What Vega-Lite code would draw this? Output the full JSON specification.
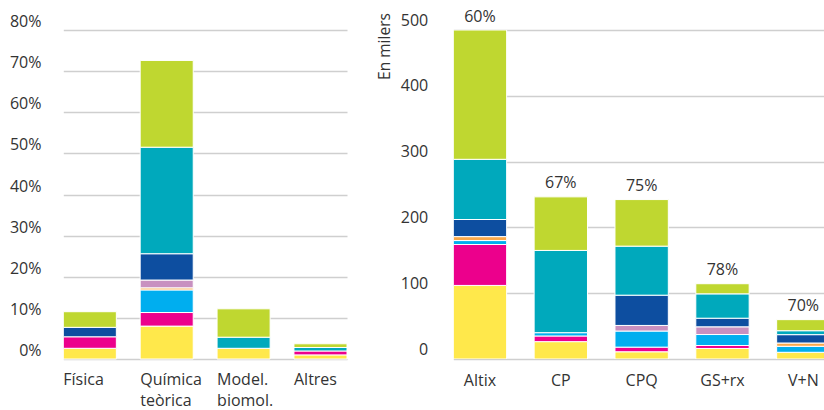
{
  "$schema": "https://vega.github.io/schema/vega-lite/v6.json",
  "padding": {"left": 8, "top": 8, "right": 0, "bottom": 0},
  "background": "white",
  "config": {
    "view": {"stroke": null},
    "font": "Open Sans",
    "axis": {"labelFont": "Open Sans", "labelFontSize": 16, "labelColor": "#333333", "titleFont": "Open Sans", "titleFontSize": 15.5, "titleFontWeight": "normal", "titleColor": "#333333", "gridColor": "#cfcfcf", "gridWidth": 1.3, "domain": false, "ticks": false, "tickSize": 0}
  },
  "datasets": {
    "esquerra": [
      {"area": "Física", "serie": "s1", "valor": 2.6},
      {"area": "Física", "serie": "s2", "valor": 2.8},
      {"area": "Física", "serie": "s6", "valor": 2.3},
      {"area": "Física", "serie": "s8", "valor": 3.8},
      {"area": "Química teòrica", "serie": "s1", "valor": 8.0},
      {"area": "Química teòrica", "serie": "s2", "valor": 3.3},
      {"area": "Química teòrica", "serie": "s3", "valor": 5.5},
      {"area": "Química teòrica", "serie": "s4", "valor": 0.5},
      {"area": "Química teòrica", "serie": "s5", "valor": 1.9},
      {"area": "Química teòrica", "serie": "s6", "valor": 6.4},
      {"area": "Química teòrica", "serie": "s7", "valor": 25.9},
      {"area": "Química teòrica", "serie": "s8", "valor": 21.1},
      {"area": "Model. biomol.", "serie": "s1", "valor": 2.6},
      {"area": "Model. biomol.", "serie": "s7", "valor": 2.7},
      {"area": "Model. biomol.", "serie": "s8", "valor": 6.9},
      {"area": "Altres", "serie": "s1", "valor": 1.0},
      {"area": "Altres", "serie": "s2", "valor": 0.95},
      {"area": "Altres", "serie": "s7", "valor": 0.85},
      {"area": "Altres", "serie": "s8", "valor": 0.9}
    ],
    "dreta": [
      {"sistema": "Altix", "serie": "s1", "valor": 111.8},
      {"sistema": "Altix", "serie": "s2", "valor": 62.2},
      {"sistema": "Altix", "serie": "s3", "valor": 6},
      {"sistema": "Altix", "serie": "s4", "valor": 6},
      {"sistema": "Altix", "serie": "s6", "valor": 26},
      {"sistema": "Altix", "serie": "s7", "valor": 91.5},
      {"sistema": "Altix", "serie": "s8", "valor": 196.5},
      {"sistema": "CP", "serie": "s1", "valor": 26.4},
      {"sistema": "CP", "serie": "s2", "valor": 8.6},
      {"sistema": "CP", "serie": "s3", "valor": 5},
      {"sistema": "CP", "serie": "s7", "valor": 125},
      {"sistema": "CP", "serie": "s8", "valor": 81.4},
      {"sistema": "CPQ", "serie": "s1", "valor": 11},
      {"sistema": "CPQ", "serie": "s2", "valor": 7},
      {"sistema": "CPQ", "serie": "s3", "valor": 24.5},
      {"sistema": "CPQ", "serie": "s5", "valor": 8.5},
      {"sistema": "CPQ", "serie": "s6", "valor": 46},
      {"sistema": "CPQ", "serie": "s7", "valor": 74.5},
      {"sistema": "CPQ", "serie": "s8", "valor": 70.8},
      {"sistema": "GS+rx", "serie": "s1", "valor": 16},
      {"sistema": "GS+rx", "serie": "s2", "valor": 4.5},
      {"sistema": "GS+rx", "serie": "s3", "valor": 16.7},
      {"sistema": "GS+rx", "serie": "s5", "valor": 11.7},
      {"sistema": "GS+rx", "serie": "s6", "valor": 13.1},
      {"sistema": "GS+rx", "serie": "s7", "valor": 37},
      {"sistema": "GS+rx", "serie": "s8", "valor": 15.4},
      {"sistema": "V+N", "serie": "s1", "valor": 10.2},
      {"sistema": "V+N", "serie": "s3", "valor": 9.1},
      {"sistema": "V+N", "serie": "s4", "valor": 5},
      {"sistema": "V+N", "serie": "s6", "valor": 12.7},
      {"sistema": "V+N", "serie": "s7", "valor": 6},
      {"sistema": "V+N", "serie": "s8", "valor": 16.8}
    ],
    "totals": [
      {"sistema": "Altix", "total": 500, "pct": "60%"},
      {"sistema": "CP", "total": 246.4, "pct": "67%"},
      {"sistema": "CPQ", "total": 242.3, "pct": "75%"},
      {"sistema": "GS+rx", "total": 114.4, "pct": "78%"},
      {"sistema": "V+N", "total": 59.8, "pct": "70%"}
    ]
  },
  "spacing": 44,
  "bounds": "flush",
  "hconcat": [
    {
      "width": 348,
      "height": 329,
      "data": {"name": "esquerra"},
      "mark": {"type": "bar", "stroke": "white", "strokeWidth": 1},
      "encoding": {
        "x": {
          "field": "area", "type": "nominal", "sort": ["Física", "Química teòrica", "Model. biomol.", "Altres"],
          "scale": {"range": [55.3, 339], "paddingInner": 0.31, "paddingOuter": 0},
          "axis": {"title": null, "labelAngle": 0, "labelAlign": "left", "labelOffset": -26.5, "labelPadding": 12, "labelLineHeight": 21, "labelExpr": "split(datum.label, ' ')"}
        },
        "y": {
          "field": "valor", "type": "quantitative", "stack": "zero",
          "scale": {"domain": [0, 80], "nice": false},
          "axis": {"title": null, "values": [0, 10, 20, 30, 40, 50, 60, 70, 80], "labelExpr": "datum.value + '%'", "labelAlign": "right", "labelPadding": -33, "labelBaseline": "alphabetic", "labelOffset": -3.5, "grid": true}
        },
        "color": {
          "field": "serie", "type": "nominal", "legend": null,
          "scale": {"domain": ["s1", "s2", "s3", "s4", "s5", "s6", "s7", "s8"], "range": ["#FFE84B", "#EC008C", "#00AEEF", "#F9A84A", "#C890C0", "#0D4EA0", "#00A9BC", "#BFD730"]}
        },
        "order": {"field": "serie", "sort": "ascending"}
      }
    },
    {
      "width": 424,
      "height": 329,
      "layer": [
        {
          "data": {"name": "dreta"},
          "mark": {"type": "bar", "stroke": "white", "strokeWidth": 1, "clip": true},
          "encoding": {
            "x": {
              "field": "sistema", "type": "nominal", "sort": ["Altix", "CP", "CPQ", "GS+rx", "V+N"],
              "scale": {"range": [53.3, 430], "paddingInner": 0.34, "paddingOuter": 0},
              "axis": {"title": null, "labelAngle": 0, "labelPadding": 13}
            },
            "y": {
              "field": "valor", "type": "quantitative", "stack": "zero",
              "scale": {"domain": [0, 500], "nice": false},
              "axis": {"title": "En milers", "values": [0, 100, 200, 300, 400, 500], "labelAlign": "right", "labelPadding": -27.7, "labelBaseline": "alphabetic", "labelOffset": -5, "grid": true, "titleAngle": -90, "titleX": -16, "titleY": 16, "titleAlign": "center", "titleBaseline": "middle"}
            },
            "color": {
              "field": "serie", "type": "nominal", "legend": null,
              "scale": {"domain": ["s1", "s2", "s3", "s4", "s5", "s6", "s7", "s8"], "range": ["#FFE84B", "#EC008C", "#00AEEF", "#F9A84A", "#C890C0", "#0D4EA0", "#00A9BC", "#BFD730"]}
            },
            "order": {"field": "serie", "sort": "ascending"}
          }
        },
        {
          "data": {"name": "totals"},
          "mark": {"type": "text", "font": "Open Sans", "fontSize": 16, "color": "#333333", "baseline": "alphabetic", "dy": -8.5},
          "encoding": {
            "x": {"field": "sistema", "type": "nominal", "sort": ["Altix", "CP", "CPQ", "GS+rx", "V+N"]},
            "y": {"field": "total", "type": "quantitative"},
            "text": {"field": "pct"}
          }
        }
      ]
    }
  ]
}
